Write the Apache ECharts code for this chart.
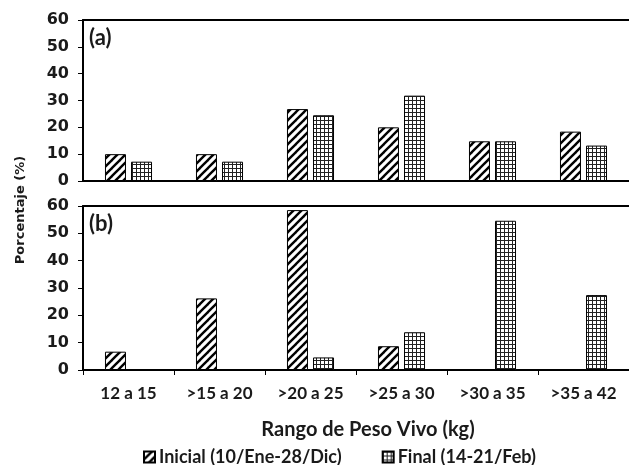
<!DOCTYPE html>
<html>
<head>
<meta charset="utf-8">
<script src="https://cdn.jsdelivr.net/npm/echarts@6/dist/echarts.min.js"></script>
<style>html,body{margin:0;padding:0;background:#fff}#c{width:629px;height:465px}</style>
</head>
<body>
<div id="c"></div>
<script>
const categories = ['12 a 15', '>15 a 20', '>20 a 25', '>25 a 30', '>30 a 35', '>35 a 42'];
const seriesNames = ['Inicial (10/Ene-28/Dic)', 'Final (14-21/Feb)'];
const inicialA = [10, 10, 26.8, 20, 14.8, 18.4];
const finalA = [7.2, 7.2, 24.5, 31.8, 14.8, 13.2];
const inicialB = [6.7, 26.2, 58.5, 8.7, 0, 0];
const finalB = [0, 0, 4.6, 13.8, 54.6, 27.4];
const yMin = 0, yMax = 60, yInterval = 10;
const panelLabels = ['(a)', '(b)'];
const xTitle = 'Rango de Peso Vivo (kg)';
const yTitle = 'Porcentaje (%)';

function stripeCanvas() {
  const s = 8, c = document.createElement('canvas');
  c.width = s; c.height = s;
  const g = c.getContext('2d');
  g.fillStyle = '#fff'; g.fillRect(0, 0, s, s);
  g.strokeStyle = '#000'; g.lineWidth = 2.4;
  for (const o of [-s, 0, s]) {
    g.beginPath(); g.moveTo(o - 1, s + 1); g.lineTo(o + s + 1, -1); g.stroke();
  }
  return c;
}
function gridCanvas() {
  const s = 4, c = document.createElement('canvas');
  c.width = s; c.height = s;
  const g = c.getContext('2d');
  g.fillStyle = '#fff'; g.fillRect(0, 0, s, s);
  g.fillStyle = '#222';
  g.fillRect(0, 0, s, 1); g.fillRect(0, 0, 1, s);
  return c;
}
const stripe = { image: stripeCanvas(), repeat: 'repeat' };
const gridP = { image: gridCanvas(), repeat: 'repeat' };

const chart = echarts.init(document.getElementById('c'), null, { renderer: 'canvas' });
const axisLine = { show: true, lineStyle: { color: '#000', width: 2 } };
const labelFont = { fontFamily: 'Lato', fontWeight: 'bold', color: '#1a1a1a' };

function yAxis(i) {
  return {
    gridIndex: i, type: 'value', min: yMin, max: yMax, interval: yInterval,
    axisLine: axisLine,
    axisTick: { show: true, length: 5, lineStyle: { color: '#000', width: 1 } },
    axisLabel: { fontFamily: 'DejaVu Sans', fontWeight: 'bold', fontSize: 16, color: '#1a1a1a', margin: 14 },
    splitLine: { show: false }
  };
}
function barSeries(name, data, xi, yi, pattern) {
  return {
    name: name, type: 'bar', xAxisIndex: xi, yAxisIndex: yi, data: data,
    barWidth: 21, barGap: '24%',
    itemStyle: { color: pattern, borderColor: '#000', borderWidth: 1 },
    emphasis: { disabled: true }
  };
}

chart.setOption({
  animation: false,
  grid: [
    { left: 83, top: 20, right: 0, height: 161 },
    { left: 83, top: 206, right: 0, height: 164 }
  ],
  xAxis: [
    { gridIndex: 0, type: 'category', data: categories, axisLine: axisLine, axisTick: { show: false }, axisLabel: { show: false } },
    { gridIndex: 0, type: 'category', position: 'top', data: categories, axisLine: axisLine, axisTick: { show: false }, axisLabel: { show: false } },
    {
      gridIndex: 1, type: 'category', data: categories, axisLine: axisLine,
      axisTick: { show: true, length: 5, lineStyle: { color: '#000', width: 1 } },
      axisLabel: Object.assign({ fontSize: 17, margin: 15 }, labelFont),
      name: xTitle, nameLocation: 'middle', nameGap: 50,
      nameTextStyle: { fontFamily: 'Lato', fontWeight: 'bold', fontSize: 20, color: '#1a1a1a', padding: [0, 0, 0, 24] }
    },
    { gridIndex: 1, type: 'category', position: 'top', data: categories, axisLine: axisLine, axisTick: { show: false }, axisLabel: { show: false } }
  ],
  yAxis: [yAxis(0), yAxis(1)],
  legend: {
    data: seriesNames, left: 138, top: 443, itemWidth: 11, itemHeight: 11, itemGap: 40,
    icon: 'rect',
    textStyle: Object.assign({ fontSize: 18, padding: [0, 0, 0, -1] }, labelFont),
    selectedMode: false
  },
  graphic: [
    { type: 'text', left: 89, top: 27, style: { text: panelLabels[0], font: 'bold 22px Lato', fill: '#1a1a1a' } },
    { type: 'text', left: 89, top: 213, style: { text: panelLabels[1], font: 'bold 22px Lato', fill: '#1a1a1a' } },
    { type: 'text', x: 21, y: 210, rotation: Math.PI / 2, style: { text: yTitle, font: 'bold 13px "DejaVu Sans"', fill: '#1a1a1a', align: 'center', verticalAlign: 'middle' } }
  ],
  series: [
    barSeries(seriesNames[0], inicialA, 0, 0, stripe),
    barSeries(seriesNames[1], finalA, 0, 0, gridP),
    barSeries(seriesNames[0], inicialB, 2, 1, stripe),
    barSeries(seriesNames[1], finalB, 2, 1, gridP)
  ]
});
</script>
</body>
</html>
